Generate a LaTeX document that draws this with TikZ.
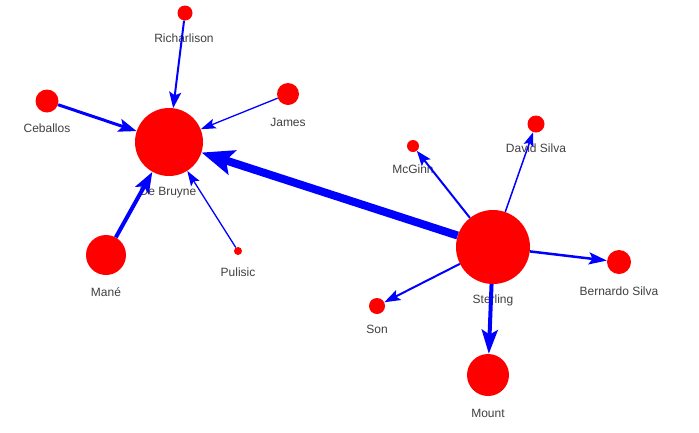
\documentclass[tikz,border=0pt]{standalone}
\usepackage{fontspec}
\setmainfont{Liberation Sans}
\usetikzlibrary{arrows.meta}
\definecolor{txt}{HTML}{404040}
\tikzset{
  pl/.style={circle, fill=red, draw=none, inner sep=0pt, minimum size=#1},
  nm/.style={text=txt, font=\fontsize{12}{14}\selectfont, inner sep=0pt},
  lnk/.style n args={3}{draw=blue, line width=#1, -{Stealth[length=#2, width=#3, inset=0.2*#2]}}
}
\begin{document}
\begin{tikzpicture}[x=1pt, y=-1pt]
\useasboundingbox (0,0) rectangle (699,432);
\fill[white] (0,0) rectangle (699,432);
% labels
\node[nm] (lrich) at (184,38) {Richarlison};
\node[nm] (lceb) at (47,128) {Ceballos};
\node[nm] (ljam) at (288,122) {James};
\node[nm] (ldeb) at (168,193) {De Bruyne};
\node[nm] (lman) at (106,292) {Mané};
\node[nm] (lpul) at (238,272) {Pulisic};
\node[nm] (lmcg) at (413,169) {McGinn};
\node[nm] (ldav) at (536,148) {David Silva};
\node[nm] (lste) at (493,300) {Sterling};
\node[nm] (lber) at (619,291) {Bernardo Silva};
\node[nm] (lson) at (377,329) {Son};
\node[nm] (lmou) at (488,413) {Mount};
% players
\node[pl=15pt] (rich) at (185,13) {};
\node[pl=23pt] (ceb) at (47,101) {};
\node[pl=22pt] (jam) at (288,94) {};
\node[pl=68pt] (deb) at (169,142) {};
\node[pl=40pt] (man) at (106,255) {};
\node[pl=8pt] (pul) at (238,251) {};
\node[pl=12pt] (mcg) at (413,146) {};
\node[pl=17pt] (dav) at (536,124) {};
\node[pl=74pt] (ste) at (493,247) {};
\node[pl=24pt] (ber) at (619,262) {};
\node[pl=16pt] (son) at (377,306) {};
\node[pl=42pt] (mou) at (488,375) {};
% passes
\draw[lnk={8pt}{32pt}{25pt}] (ste) -- (deb);
\draw[lnk={4pt}{21pt}{15pt}] (man) -- (deb);
\draw[lnk={3pt}{18pt}{13pt}] (ceb) -- (deb);
\draw[lnk={2pt}{16pt}{12pt}] (rich) -- (deb);
\draw[lnk={1.3pt}{15pt}{10pt}] (jam) -- (deb);
\draw[lnk={1.3pt}{15pt}{10pt}] (pul) -- (deb);
\draw[lnk={2pt}{15pt}{11pt}] (ste) -- (mcg);
\draw[lnk={1.5pt}{14pt}{10pt}] (ste) -- (dav);
\draw[lnk={2.5pt}{18pt}{12pt}] (ste) -- (ber);
\draw[lnk={2pt}{16pt}{11pt}] (ste) -- (son);
\draw[lnk={4pt}{24pt}{16pt}] (ste) -- (mou);
\end{tikzpicture}
\end{document}
